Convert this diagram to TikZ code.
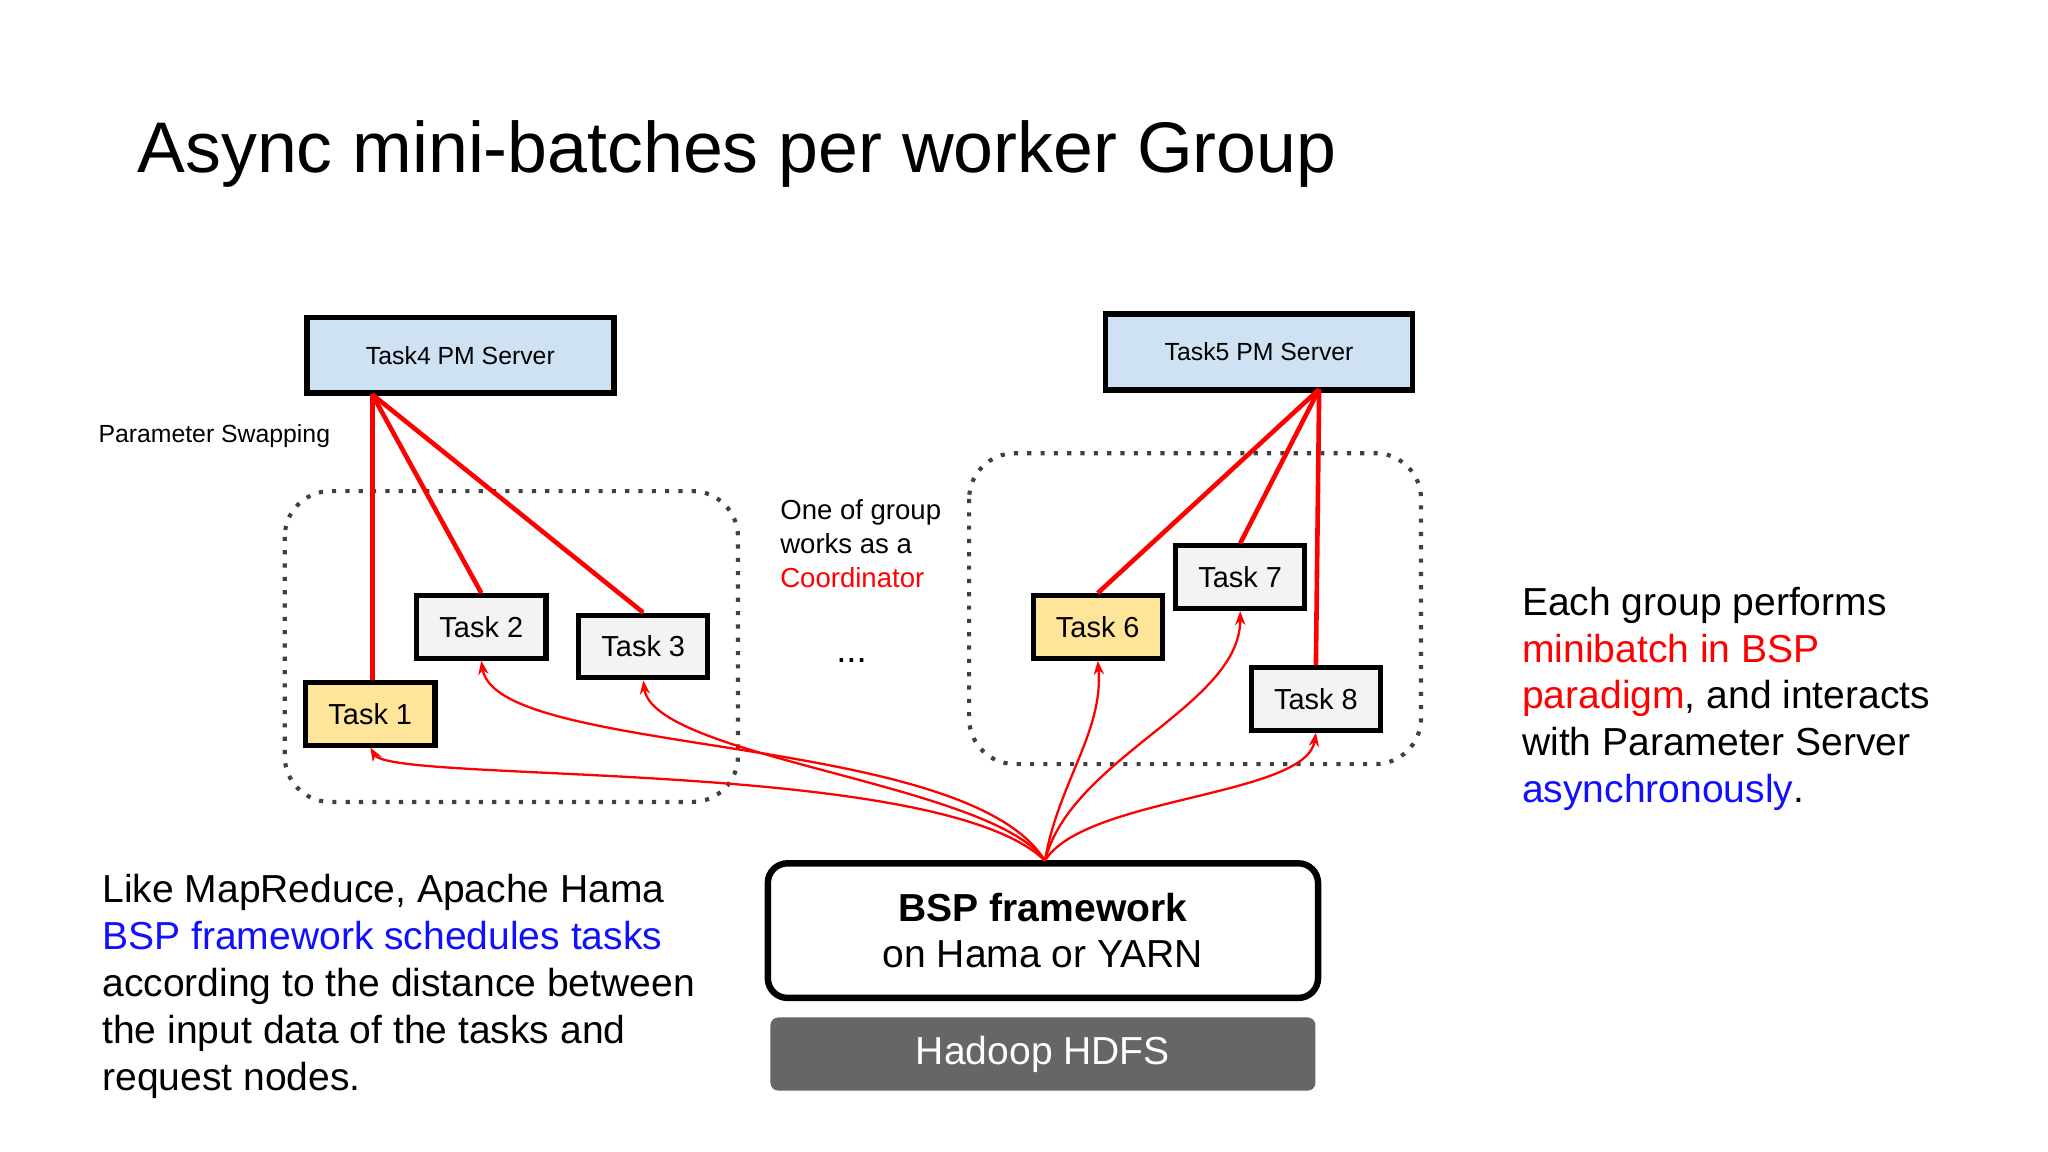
\documentclass[tikz,border=0pt]{standalone}
\usepackage{fontspec}
\setmainfont{Liberation Sans}
\usetikzlibrary{arrows.meta}
\definecolor{srvblue}{HTML}{CFE2F3}
\definecolor{taskyel}{HTML}{FFE599}
\definecolor{taskgry}{HTML}{F3F3F3}
\definecolor{hdfs}{HTML}{666666}
\definecolor{txtred}{HTML}{FF0000}
\definecolor{txtblue}{HTML}{1010FF}
\begin{document}
\begin{tikzpicture}[x=0.01cm,y=-0.01cm,
  server/.style={draw,line width=1.2pt,fill=srvblue,minimum width=2.35cm,minimum height=0.58cm,font=\fontsize{5.4}{6}\selectfont},
  task/.style={draw,line width=1.1pt,minimum width=0.99cm,minimum height=0.48cm,font=\fontsize{6.3}{7}\selectfont},
  group/.style={draw,dotted,line width=0.9pt,rounded corners=0.35cm,gray!50!black},
  link/.style={draw=red,line width=1pt},
  feed/.style={draw=red,line width=0.5pt,-{Stealth[length=3pt]}},
  body/.style={align=left,font=\fontsize{8.5}{10.2}\selectfont}]
\useasboundingbox (0,0) rectangle (1568,882);

% title
\node[anchor=base west,font=\fontsize{15.6}{18}\selectfont] (title) at (93,132) {Async mini-batches per worker Group};

% groups
\draw[group] (218,376) rectangle (565,614);
\draw[group] (742,347) rectangle (1088,585);

% servers
\node[server] (s4) at (352.5,272) {Task4 PM Server};
\node[server] (s5) at (964,269.5) {Task5 PM Server};
\coordinate (s4p) at (285,302);
\coordinate (s5p) at (1010,298);

\node[anchor=west,font=\fontsize{5.4}{6}\selectfont] (swap) at (63,334) {Parameter Swapping};

% tasks
\node[task,fill=taskyel] (t1) at (283.5,546.5) {Task 1};
\node[task,fill=taskgry] (t2) at (368.5,480) {Task 2};
\node[task,fill=taskgry] (t3) at (492.5,495) {Task 3};
\node[task,fill=taskyel] (t6) at (840.5,480) {Task 6};
\node[task,fill=taskgry] (t7) at (949.5,442) {Task 7};
\node[task,fill=taskgry] (t8) at (1007.5,535) {Task 8};

% parameter links
\draw[link] (s4p) -- (t1.north -| s4p);
\draw[link] (s4p) -- (t2.north);
\draw[link] (s4p) -- (t3.north);
\draw[link] (s5p) -- (t6.north);
\draw[link] (s5p) -- (t7.north);
\draw[link] (s5p) -- (t8.north);

\node[anchor=north west,align=left,font=\fontsize{6}{7.4}\selectfont] (coord) at (585,370)
  {One of group\\works as a\\\textcolor{txtred}{Coordinator}};
\node[font=\fontsize{8}{9}\selectfont] (dots) at (652,506) {...};

% framework
\node[draw,line width=1.4pt,rounded corners=0.15cm,minimum width=4.21cm,minimum height=1.03cm,align=center,font=\fontsize{8.5}{10.2}\selectfont] (bsp) at (798.5,712.5)
  {\textbf{BSP framework}\\on Hama or YARN};
\node[fill=hdfs,rounded corners=0.06cm,minimum width=4.17cm,minimum height=0.56cm,text=white,font=\fontsize{8.5}{10}\selectfont] (hdfs) at (798.5,807) {Hadoop HDFS};
\coordinate (hub) at (800,659);

% scheduling arrows
\draw[feed] (hub) .. controls (720,580) and (300,600) .. (t1.south);
\draw[feed] (hub) .. controls (740,560) and (380,580) .. (t2.south);
\draw[feed] (hub) .. controls (760,600) and (500,580) .. (t3.south);
\draw[feed] (hub) .. controls (810,600) and (845,560) .. (t6.south);
\draw[feed] (hub) .. controls (820,580) and (950,540) .. (t7.south);
\draw[feed] (hub) .. controls (830,610) and (1000,610) .. (t8.south);

% side texts
\node[body,anchor=north west] (left) at (66,657)
  {Like MapReduce, Apache Hama\\\textcolor{txtblue}{BSP framework schedules tasks}\\according to the distance between\\the input data of the tasks and\\request nodes.};
\node[body,anchor=north west] (right) at (1153,437)
  {Each group performs\\\textcolor{txtred}{minibatch in BSP}\\\textcolor{txtred}{paradigm}, and interacts\\with Parameter Server\\\textcolor{txtblue}{asynchronously}.};
\end{tikzpicture}
\end{document}
